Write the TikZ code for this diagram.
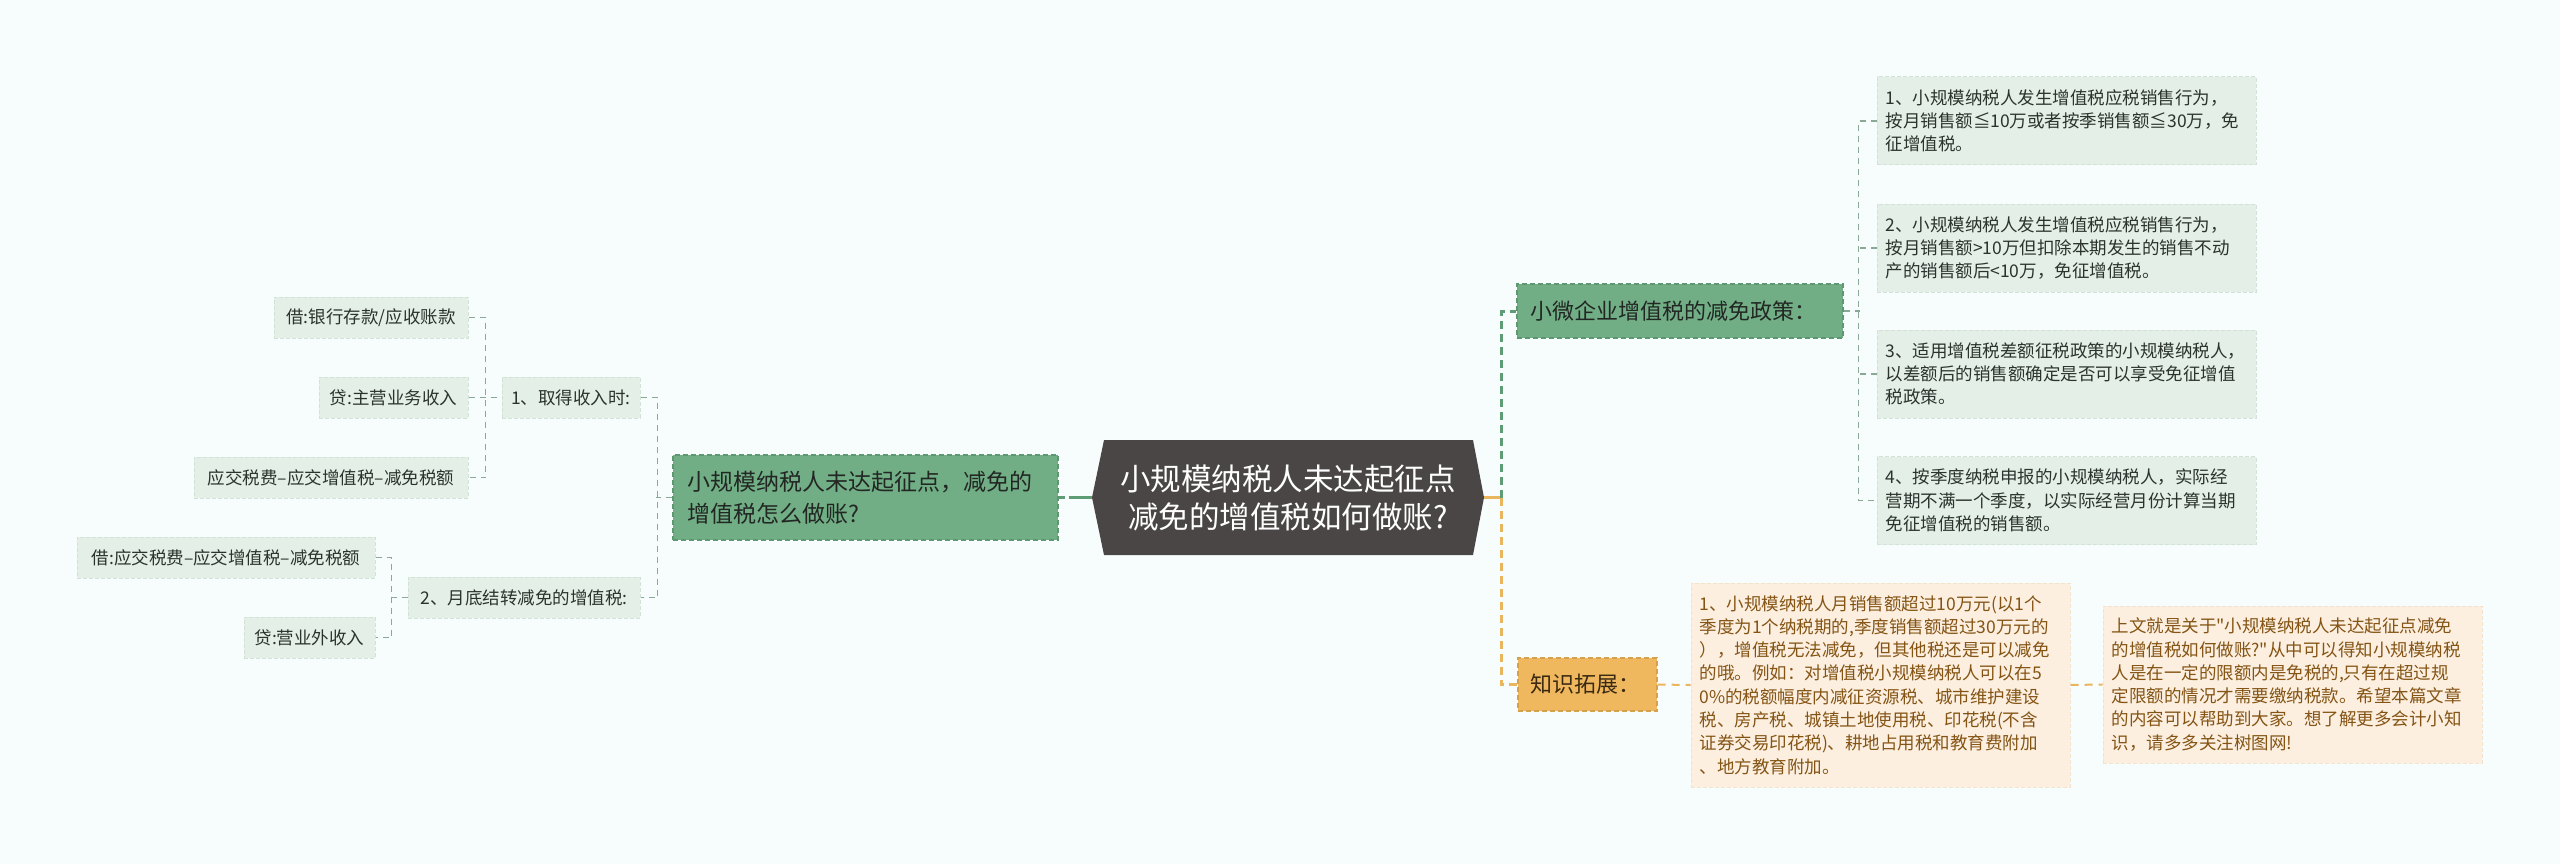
\documentclass[tikz,border=0pt]{standalone}
\usepackage{fontspec}
\setmainfont{Noto Sans CJK SC}[Ligatures=TeXOff]
\definecolor{bgc}{HTML}{F7FDFD}
\definecolor{hubfill}{HTML}{4B4646}
\definecolor{mainfill}{HTML}{71AE85}
\definecolor{mainedge}{HTML}{5E9872}
\definecolor{maintext}{HTML}{222724}
\definecolor{leaffill}{HTML}{E3EFE7}
\definecolor{leafedge}{HTML}{D2E2D7}
\definecolor{leaftext}{HTML}{2C332E}
\definecolor{thinc}{HTML}{8AA896}
\definecolor{greenc}{HTML}{5E9C76}
\definecolor{orangec}{HTML}{E9B65E}
\definecolor{orfill}{HTML}{F0B85E}
\definecolor{oredge}{HTML}{D9A04C}
\definecolor{ortext}{HTML}{3A2A12}
\definecolor{kfill}{HTML}{FCEFE0}
\definecolor{kedge}{HTML}{F3E2CC}
\definecolor{ktext}{HTML}{845414}
\begin{document}
\begin{tikzpicture}[x=1pt,y=-1pt,
  hubbox/.style={inner sep=0pt, minimum width=392pt, minimum height=115pt, text=white, align=center, font=\fontsize{30.5}{38}\selectfont},
  mainbox/.style={fill=mainfill, draw=mainedge, line width=1.2pt, dash pattern=on 5pt off 3pt, inner ysep=0pt, text=maintext, align=left},
  leafbox/.style={fill=leaffill, draw=leafedge, line width=1pt, dash pattern=on 4pt off 2pt, inner sep=0pt, text=leaftext, minimum height=41pt, font=\fontsize{17.5}{23.3}\selectfont},
  textbox/.style={fill=leaffill, draw=leafedge, line width=1pt, dash pattern=on 4pt off 2pt, inner ysep=0pt, inner xsep=8.5pt, text width=362pt, align=left, text=leaftext, font=\fontsize{17.5}{23.3}\selectfont},
  orbox/.style={fill=orfill, draw=oredge, line width=1.2pt, dash pattern=on 5pt off 3pt, inner ysep=0pt, inner xsep=12pt, text width=115pt, align=left, text=ortext, font=\fontsize{22}{28}\selectfont},
  kbox/.style={fill=kfill, draw=kedge, line width=1pt, dash pattern=on 4pt off 2pt, inner ysep=0pt, inner xsep=8.5pt, text width=362pt, align=left, text=ktext, font=\fontsize{17.5}{23.3}\selectfont},
  thinlink/.style={draw=thinc, line width=1.5pt, dash pattern=on 6pt off 5pt},
  greenlink/.style={draw=greenc, line width=3pt, dash pattern=on 8pt off 5pt},
  orangelink/.style={draw=orangec, line width=3pt, dash pattern=on 8pt off 5pt},
  orangethin/.style={draw=orangec, line width=2pt, dash pattern=on 8pt off 6pt},
]
\fill[bgc] (0,0) rectangle (2560,864);
\useasboundingbox (0,0) rectangle (2560,864);

% central hexagon
\fill[hubfill] (1092,497.5) -- (1104,440) -- (1473,440) -- (1484,497.5) -- (1473,555) -- (1104,555) -- cycle;
\node[hubbox] (c) at (1288,497.5) {小规模纳税人未达起征点\\减免的增值税如何做账?};

% left branch
\node[mainbox, text width=357pt, inner xsep=14pt, minimum height=85pt, font=\fontsize{23}{32}\selectfont] (L) at (865.5,497.5) {小规模纳税人未达起征点，减免的\\增值税怎么做账?};
\node[leafbox, minimum width=138pt] (a1) at (571,397.5) {1、取得收入时:};
\node[leafbox, minimum width=232pt] (a2) at (524,597.5) {2、月底结转减免的增值税:};
\node[leafbox, minimum width=194pt] (b1) at (371,317.5) {借:银行存款/应收账款};
\node[leafbox, minimum width=149pt] (b2) at (393.5,397.5) {贷:主营业务收入};
\node[leafbox, minimum width=274pt] (b3) at (331,477.5) {应交税费–应交增值税–减免税额};
\node[leafbox, minimum width=298pt] (d1) at (226,557.5) {借:应交税费–应交增值税–减免税额};
\node[leafbox, minimum width=131pt] (d2) at (309.5,637.5) {贷:营业外收入};

% right branch
\node[mainbox, text width=300pt, inner xsep=13pt, minimum height=54pt, font=\fontsize{22}{28}\selectfont] (p) at (1680,311) {小微企业增值税的减免政策：};
\node[textbox, minimum height=88pt] (r1) at (2066.5,121) {1、小规模纳税人发生增值税应税销售行为，\\按月销售额≦10万或者按季销售额≦30万，免\\征增值税。};
\node[textbox, minimum height=88pt] (r2) at (2066.5,248) {2、小规模纳税人发生增值税应税销售行为，\\按月销售额>10万但扣除本期发生的销售不动\\产的销售额后<10万，免征增值税。};
\node[textbox, minimum height=88pt] (r3) at (2066.5,374) {3、适用增值税差额征税政策的小规模纳税人，\\以差额后的销售额确定是否可以享受免征增值\\税政策。};
\node[textbox, minimum height=88pt] (r4) at (2066.5,500.5) {4、按季度纳税申报的小规模纳税人，实际经\\营期不满一个季度，以实际经营月份计算当期\\免征增值税的销售额。};

\node[orbox, minimum height=53pt] (k) at (1587.5,684.5) {知识拓展：};
\node[kbox, minimum height=204pt] (k1) at (1880.5,685) {1、小规模纳税人月销售额超过10万元(以1个\\季度为1个纳税期的,季度销售额超过30万元的\\），增值税无法减免，但其他税还是可以减免\\的哦。例如：对增值税小规模纳税人可以在5\\0\%的税额幅度内减征资源税、城市维护建设\\税、房产税、城镇土地使用税、印花税(不含\\证券交易印花税)、耕地占用税和教育费附加\\、地方教育附加。};
\node[kbox, minimum height=157pt] (k2) at (2292.5,684.5) {上文就是关于"小规模纳税人未达起征点减免\\的增值税如何做账?"从中可以得知小规模纳税\\人是在一定的限额内是免税的,只有在超过规\\定限额的情况才需要缴纳税款。希望本篇文章\\的内容可以帮助到大家。想了解更多会计小知\\识，请多多关注树图网!};

% connectors left
\draw[greenc, line width=2.5pt, dash pattern=on 6pt off 4pt on 60pt off 0pt] (L.east) -- (c.west);
\draw[thinlink] (L.west) -- ++(-16,0);
\draw[thinlink] (a1.east) -- ++(17,0) |- (a2.east);
\draw[thinlink] (b1.east) -- ++(17,0) |- (b3.east);
\draw[thinlink] (b2.east) -- (a1.west);
\draw[thinlink] (d1.east) -- ++(16,0) |- (d2.east);
\draw[thinlink] (a2.west) -- ++(-17,0);

% connectors right
\draw[orangec, line width=2.5pt] (c.east) -- ++(17,0) coordinate (rj);
\draw[greenlink] (rj) |- (p.west);
\draw[orangelink] (rj) |- (k.west);
\draw[thinlink] (p.east) -- ++(16,0);
\draw[thinlink] (r1.west) -- ++(-18,0) |- (r4.west);
\draw[thinlink] (r2.west) -- ++(-18,0);
\draw[thinlink] (r3.west) -- ++(-18,0);
\draw[orangethin] (k.east) -- (k1.west);
\draw[orangethin] (k1.east) -- (k2.west);
\end{tikzpicture}
\end{document}
